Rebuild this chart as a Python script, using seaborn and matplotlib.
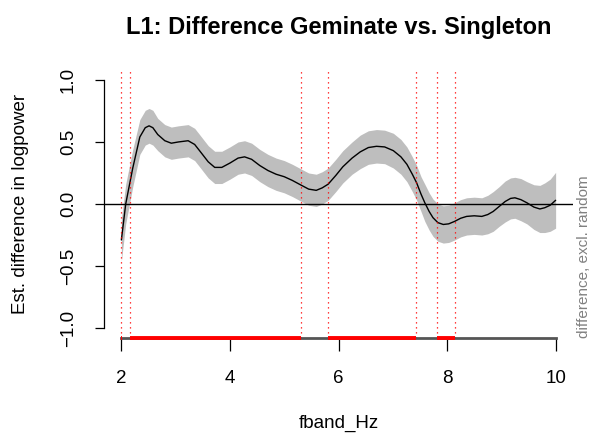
import pandas as pd
import numpy as np
import seaborn as sns
import matplotlib.pyplot as plt

# estimated difference curve
freq = [2.00, 2.08, 2.21, 2.34, 2.44, 2.51, 2.58, 2.67, 2.80, 2.92, 3.05, 3.23, 3.35,
        3.44, 3.60, 3.72, 3.85, 4.00, 4.15, 4.27, 4.40, 4.55, 4.70, 4.85, 5.00,
        5.15, 5.32, 5.45, 5.59, 5.70, 5.81, 5.95, 6.08, 6.25, 6.40, 6.55, 6.70,
        6.85, 7.01, 7.15, 7.26, 7.36, 7.44, 7.52, 7.59, 7.67, 7.74, 7.83, 7.93,
        8.03, 8.14, 8.25, 8.36, 8.50, 8.64, 8.75, 8.85, 8.96, 9.07, 9.17, 9.25,
        9.36, 9.47, 9.60, 9.71, 9.80, 9.90, 10.00]
diff = [-0.29, 0.00, 0.29, 0.54, 0.615, 0.63, 0.615, 0.56, 0.51, 0.49, 0.50, 0.51, 0.48,
        0.43, 0.34, 0.295, 0.295, 0.33, 0.37, 0.38, 0.36, 0.31, 0.27, 0.24, 0.22,
        0.19, 0.15, 0.12, 0.11, 0.13, 0.16, 0.23, 0.30, 0.37, 0.42, 0.455, 0.465,
        0.46, 0.43, 0.38, 0.32, 0.24, 0.17, 0.08, 0.01, -0.06, -0.11, -0.15, -0.165,
        -0.16, -0.14, -0.115, -0.10, -0.095, -0.10, -0.085, -0.06, -0.02, 0.02, 0.045, 0.05,
        0.035, 0.01, -0.025, -0.04, -0.03, -0.01, 0.03]
ci = [0.17, 0.16, 0.15, 0.14, 0.14, 0.14, 0.14, 0.13, 0.13, 0.13, 0.13, 0.13, 0.13,
      0.13, 0.13, 0.13, 0.13, 0.13, 0.13, 0.13, 0.13, 0.13, 0.13, 0.13, 0.13,
      0.13, 0.13, 0.13, 0.13, 0.13, 0.13, 0.13, 0.13, 0.13, 0.135, 0.135, 0.135,
      0.135, 0.14, 0.14, 0.14, 0.14, 0.14, 0.14, 0.15, 0.15, 0.15, 0.15, 0.15,
      0.15, 0.15, 0.15, 0.15, 0.15, 0.15, 0.155, 0.16, 0.16, 0.165, 0.165, 0.165,
      0.17, 0.17, 0.18, 0.19, 0.20, 0.21, 0.225]

# significant regions
sig_start = [2.00, 2.166, 5.80, 7.82]
sig_end = [2.02, 5.31, 7.42, 8.14]

x_ticks = [2, 4, 6, 8, 10]
y_ticks = [-1.0, -0.5, 0.0, 0.5, 1.0]

df = pd.DataFrame({'fband_Hz': freq, 'diff': diff, 'ci': ci})
df['lo'] = df['diff'] - df['ci']
df['hi'] = df['diff'] + df['ci']

sns.set_theme(style='white')
plt.rcParams['font.family'] = ['Liberation Sans', 'DejaVu Sans']
plt.rcParams['text.color'] = 'black'
plt.rcParams['axes.labelcolor'] = 'black'
plt.rcParams['xtick.color'] = 'black'
plt.rcParams['ytick.color'] = 'black'

fig = plt.figure(figsize=(5.92, 4.36), dpi=100)
ax = fig.add_axes([104/592, 98/436, 469/592, 268/436])

ax.fill_between(df['fband_Hz'], df['lo'], df['hi'], color='#bebebe', lw=0)
ax.axhline(0, color='black', lw=1)
sns.lineplot(data=df, x='fband_Hz', y='diff', color='black', lw=1, ax=ax)

ymin, ymax = -1.08, 1.08
for s, e in zip(sig_start, sig_end):
    ax.axvline(s, color='red', ls=(0, (1, 3)), lw=0.9)
    if e - s > 0.05:
        ax.axvline(e, color='red', ls=(0, (1, 3)), lw=0.9)
    ax.plot([s, e], [ymin, ymin], color='red', lw=2.8, solid_capstyle='butt',
            clip_on=False, zorder=5)

ax.set_xlim(1.68, 10.32)
ax.set_ylim(ymin, ymax)

for side in ['top', 'right']:
    ax.spines[side].set_visible(False)
ax.spines['left'].set_bounds(-1, 1)
ax.spines['left'].set_color('black')
ax.spines['left'].set_linewidth(0.9)
ax.spines['bottom'].set_bounds(2, 10)
ax.spines['bottom'].set_color('#555555')
ax.spines['bottom'].set_linewidth(2)

ax.set_xticks(x_ticks)
ax.set_xticklabels([str(t) for t in x_ticks])
ax.set_yticks(y_ticks)
ax.set_yticklabels([f'{t:.1f}'.replace('-', '\u2212') for t in y_ticks],
                   rotation=90, va='center')
ax.tick_params(axis='x', direction='out', length=9, width=0.9, color='black',
               labelsize=13.5, pad=14, bottom=True)
ax.tick_params(axis='y', direction='out', length=6.5, width=0.9, color='black',
               labelsize=13.5, pad=13, left=True)

ax.set_xlabel('fband_Hz', fontsize=13.5, labelpad=20)
ax.set_ylabel('Est. difference in logpower', fontsize=13.5, labelpad=22)
ax.set_title('L1: Difference Geminate vs. Singleton', fontsize=17,
             fontweight='bold', pad=26)

fig.text(584/592, 98/436, 'difference, excl. random', rotation=90,
         ha='center', va='bottom', color='#808080', fontsize=11)

plt.savefig('out.png', dpi=100)
